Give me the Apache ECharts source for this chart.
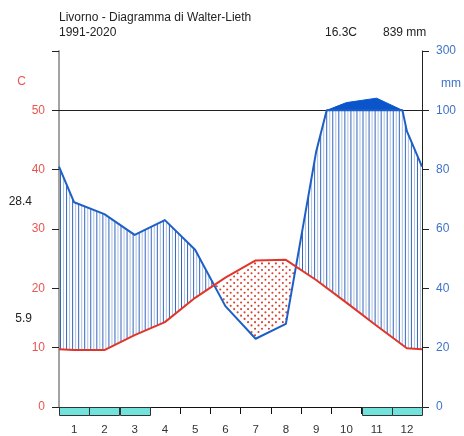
<!DOCTYPE html>
<html><head><meta charset="utf-8">
<script src="https://cdn.jsdelivr.net/npm/echarts@6/dist/echarts.min.js"></script>
<style>html,body{margin:0;padding:0;background:#fff}#c{width:464px;height:436px}</style>
</head><body><div id="c"></div>
<script>
// ---------------- data ----------------
const months = ['1','2','3','4','5','6','7','8','9','10','11','12'];
const tempC = [9.6, 9.6, 12.1, 14.3, 18.4, 21.8, 24.7, 24.8, 21.4, 17.6, 13.7, 9.9];
const precipMm = [69, 65, 58, 63, 53, 34, 23, 28, 86, 126, 141, 93];
const frostMonths = [1, 1, 1, 0, 0, 0, 0, 0, 0, 0, 1, 1];
const leftTickValues = [0, 10, 20, 30, 40, 50];
const rightTickLabels = {0:'0', 10:'20', 20:'40', 30:'60', 40:'80', 50:'100', 60:'300'};
const titleText = 'Livorno - Diagramma di Walter-Lieth';
const periodText = '1991-2020';
const meanTempText = '16.3C';
const annualPrecipText = '839 mm';
const maxTempText = '28.4';
const minTempText = '5.9';

// ---------------- helpers ----------------
const FONT = '"Liberation Sans", Arial, sans-serif';
const RED = '#e2352a', BLUE = '#1d5fc7';
function ext(arr){ // wrap-around, months at x = i + 0.5
  const pts = [[-0.5, arr[11]]];
  arr.forEach((v,i)=>pts.push([i+0.5, v]));
  pts.push([12.5, arr[0]]);
  return pts;
}
function interp(pts, x){
  for(let i=0;i<pts.length-1;i++){
    const a=pts[i], b=pts[i+1];
    if(x>=a[0] && x<=b[0]){ const t=(x-a[0])/(b[0]-a[0]); return a[1]+t*(b[1]-a[1]); }
  }
  return pts[pts.length-1][1];
}
function clipPath(pts, cap){
  const out=[];
  for(let i=0;i<pts.length-1;i++){
    const a=pts[i], b=pts[i+1];
    out.push(a);
    const ts=[];
    [0,12].forEach(xb=>{ if((a[0]-xb)*(b[0]-xb)<0) ts.push((xb-a[0])/(b[0]-a[0])); });
    if(cap!=null && (a[1]-cap)*(b[1]-cap)<0) ts.push((cap-a[1])/(b[1]-a[1]));
    ts.sort((p,q)=>p-q);
    ts.forEach(t=>out.push([a[0]+t*(b[0]-a[0]), a[1]+t*(b[1]-a[1])]));
  }
  out.push(pts[pts.length-1]);
  return out.filter(p=>p[0]>=-1e-9 && p[0]<=12+1e-9)
            .map(p=>[p[0], cap!=null?Math.min(p[1],cap):p[1]]);
}
const tExt = ext(tempC);
const pMmExt = ext(precipMm);
const pHalfExt = pMmExt.map(p=>[p[0], p[1]/2]);   // 1 C = 2 mm below 100 mm

function excessRegions(){ // > 100 mm, compressed: 1 C = 20 mm
  const regs=[]; let cur=null;
  for(let i=0;i<pMmExt.length;i++){
    const [x,p]=pMmExt[i];
    if(p>100){
      if(!cur){ const [x0,p0]=pMmExt[i-1]; const t=(100-p0)/(p-p0); cur=[[x0+t*(x-x0),50]]; }
      cur.push([x, 50+(p-100)/20]);
    } else if(cur){
      const [x0,p0]=pMmExt[i-1]; const t=(100-p0)/(p-p0);
      cur.push([x0+t*(x-x0),50]); regs.push(cur); cur=null;
    }
  }
  return regs;
}

// ---------------- chart ----------------
const chart = echarts.init(document.getElementById('c'), null, {renderer:'canvas'});

function renderMain(params, api){
  const c = v=>api.coord(v);
  const kids=[];
  // humid hatching
  for(let k=0;;k++){
    const x = 0.05 + k*0.1;
    if(x>12) break;
    const T=interp(tExt,x), P=interp(pHalfExt,x);
    if(P>T){
      const top=Math.min(P,50);
      const a=c([x,T]), b=c([x,top]);
      kids.push({type:'line', shape:{x1:a[0],y1:a[1],x2:b[0],y2:b[1]},
        style:{stroke: (k%2===0)?'#3565b8':'#a9c2ea', lineWidth:1}, silent:true});
    }
  }
  // arid dots
  for(let k=0;;k++){
    const x = 0.04 + k*0.115;
    if(x>12) break;
    const T=interp(tExt,x), P=interp(pHalfExt,x);
    if(T<=P) continue;
    for(let y=(k%2)*0.55; y<T; y+=1.1){
      if(y>P+0.35 && y<T-0.35){
        const p=c([x,y]);
        kids.push({type:'circle', shape:{cx:p[0],cy:p[1],r:1.05}, style:{fill:'#d5432f'}, silent:true});
      }
    }
  }
  // excess precipitation fill
  excessRegions().forEach(reg=>{
    kids.push({type:'polygon', shape:{points:reg.map(c)}, style:{fill:'#0b55cc', stroke:'#0b55cc', lineWidth:1}, silent:true});
  });
  // 100 mm / 50 C line
  const l0=c([0,50]), l1=c([12,50]);
  kids.push({type:'line', shape:{x1:l0[0],y1:Math.round(l0[1])+0.5,x2:l1[0],y2:Math.round(l1[1])+0.5}, style:{stroke:'#222',lineWidth:1}, silent:true});
  // precipitation line
  kids.push({type:'polyline', shape:{points:clipPath(pHalfExt,50).map(c)}, style:{stroke:BLUE,lineWidth:2,fill:null,lineJoin:'round'}, silent:true});
  // temperature line
  kids.push({type:'polyline', shape:{points:clipPath(tExt,null).map(c)}, style:{stroke:RED,lineWidth:2,fill:null,lineJoin:'round'}, silent:true});
  // frost months boxes
  frostMonths.forEach((f,i)=>{
    if(!f) return;
    const a=c([i,0]), b=c([i+1,0]);
    kids.push({type:'rect', shape:{x:Math.round(a[0])+0.5,y:Math.round(a[1])+0.5,width:Math.round(b[0]-a[0]),height:8},
      style:{fill:'#72e2dd', stroke:'#333', lineWidth:1}, silent:true});
  });
  return {type:'group', children:kids};
}

const option = {
  animation:false,
  backgroundColor:'#fff',
  textStyle:{fontFamily:FONT},
  grid:{left:59, right:42, top:51, bottom:29, containLabel:false, outerBoundsMode:'none'},
  xAxis:[
    {type:'value', min:0, max:12, show:false},
    {type:'category', data:months, boundaryGap:true, position:'bottom',
     axisLine:{show:true, lineStyle:{color:'#111', width:1}},
     axisTick:{show:true, length:7, lineStyle:{color:'#111'}},
     axisLabel:{color:'#333', fontSize:11.5, margin:17, fontFamily:FONT},
     splitLine:{show:false}}
  ],
  yAxis:[
    {type:'value', position:'left', min:0, max:60, interval:10,
     axisLine:{show:true, lineStyle:{color:'#a3a3a3', width:2}},
     axisTick:{show:true, length:7, lineStyle:{color:'#222'}},
     axisLabel:{color:'#e8564f', fontSize:12, margin:14, fontFamily:FONT,
       formatter:v=>leftTickValues.indexOf(v)>=0?String(v):''},
     splitLine:{show:false}},
    {type:'value', position:'right', min:0, max:60, interval:10,
     axisLine:{show:true, lineStyle:{color:'#222', width:1}},
     axisTick:{show:true, length:7, lineStyle:{color:'#222'}},
     axisLabel:{color:'#3f73c9', fontSize:12, margin:14, fontFamily:FONT,
       formatter:v=>rightTickLabels[v]!==undefined?rightTickLabels[v]:''},
     splitLine:{show:false}}
  ],
  series:[
    {type:'custom', xAxisIndex:0, yAxisIndex:0, data:[[0,0]], renderItem:renderMain, clip:false, z:3, silent:true}
  ],
  graphic:[
    {type:'text', left:59, top:12, style:{text:titleText, fill:'#222', font:'12px '+FONT}},
    {type:'text', left:59, top:27, style:{text:periodText, fill:'#222', font:'12px '+FONT}},
    {type:'text', left:325, top:27, style:{text:meanTempText, fill:'#222', font:'12px '+FONT}},
    {type:'text', left:383, top:27, style:{text:annualPrecipText, fill:'#222', font:'12px '+FONT}},
    {type:'text', x:21.5, y:82, style:{text:'C', fill:'#e8564f', font:'12px '+FONT, align:'center', verticalAlign:'middle'}},
    {type:'text', x:451, y:84, style:{text:'mm', fill:'#3f73c9', font:'12px '+FONT, align:'center', verticalAlign:'middle'}},
    {type:'text', x:32, y:202, style:{text:maxTempText, fill:'#222', font:'12px '+FONT, align:'right', verticalAlign:'middle'}},
    {type:'text', x:32, y:319, style:{text:minTempText, fill:'#222', font:'12px '+FONT, align:'right', verticalAlign:'middle'}}
  ]
};
chart.setOption(option);
</script>
</body></html>
